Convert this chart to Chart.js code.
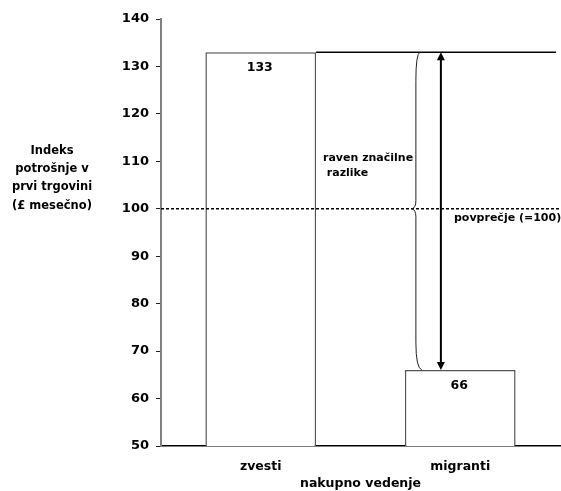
<!DOCTYPE html>
<html>
<head>
<meta charset="utf-8">
<script src="https://cdn.jsdelivr.net/npm/chart.js@4/dist/chart.umd.min.js"></script>
<style>
  html, body { margin: 0; padding: 0; background: #fff; }
  #wrap { width: 561px; height: 491px; }
</style>
</head>
<body>
<div id="wrap"><canvas id="c" width="561" height="491"></canvas></div>
<script>
// Kategorije nakupnega vedenja in indeks porabe
const categories = ['zvesti', 'migranti'];
const indexValues = [133, 66];
const averageIndex = 100;
const yMin = 50;
const yMax = 140;
const yStep = 10;
const yTitleLines = ['Indeks', 'potrošnje v', 'prvi trgovini', '(£ mesečno)'];
const xTitle = 'nakupno vedenje';
const gapLabelLines = ['raven značilne', ' razlike'];
const averageLabel = 'povprečje (=100)';

const FONT = '"DejaVu Sans", Verdana, sans-serif';

const overlay = {
  id: 'overlay',
  afterDatasetsDraw(chart) {
    const ctx = chart.ctx;
    const area = chart.chartArea;
    const y = chart.scales.y;
    const bars = chart.getDatasetMeta(0).data;
    const hiBar = bars[0], loBar = bars[1];
    const yHi = y.getPixelForValue(indexValues[0]);
    const yLo = y.getPixelForValue(indexValues[1]);
    const yAvg = y.getPixelForValue(averageIndex);
    const loLeft = loBar.x - loBar.width / 2;

    ctx.save();
    // povprečje: črtkana črta
    ctx.strokeStyle = '#000';
    ctx.lineWidth = 1.5;
    ctx.setLineDash([3, 2]);
    ctx.beginPath();
    ctx.moveTo(area.left, yAvg);
    ctx.lineTo(area.right, yAvg);
    ctx.stroke();
    ctx.setLineDash([]);

    // vodoravna črta od vrha višjega stolpca
    ctx.lineWidth = 1.5;
    ctx.beginPath();
    ctx.moveTo(hiBar.x + hiBar.width / 2, yHi);
    ctx.lineTo(area.right - 4, yHi);
    ctx.stroke();

    // zavit oklepaj
    const xR = loLeft + 15, xM = loLeft + 11, xC = loLeft + 7;
    ctx.lineWidth = 1;
    ctx.strokeStyle = '#222';
    ctx.beginPath();
    ctx.moveTo(xR, yHi);
    ctx.quadraticCurveTo(xM, yHi + 2, xM, yHi + 28);
    ctx.lineTo(xM, yAvg - 8);
    ctx.quadraticCurveTo(xM, yAvg - 1, xC, yAvg);
    ctx.quadraticCurveTo(xM, yAvg + 1, xM, yAvg + 8);
    ctx.lineTo(xM, yLo - 28);
    ctx.quadraticCurveTo(xM, yLo - 2, xR + 2, yLo);
    ctx.stroke();

    // dvosmerna puščica
    const xA = loLeft + 36;
    ctx.strokeStyle = '#000';
    ctx.fillStyle = '#000';
    ctx.lineWidth = 2;
    ctx.beginPath();
    ctx.moveTo(xA, yHi + 7);
    ctx.lineTo(xA, yLo - 7);
    ctx.stroke();
    ctx.beginPath();
    ctx.moveTo(xA, yHi);
    ctx.lineTo(xA - 4, yHi + 8);
    ctx.lineTo(xA + 4, yHi + 8);
    ctx.closePath();
    ctx.fill();
    ctx.beginPath();
    ctx.moveTo(xA, yLo);
    ctx.lineTo(xA - 4, yLo - 8);
    ctx.lineTo(xA + 4, yLo - 8);
    ctx.closePath();
    ctx.fill();

    // oznake vrednosti
    ctx.fillStyle = '#000';
    ctx.font = 'bold 12.5px ' + FONT;
    ctx.textAlign = 'center';
    ctx.textBaseline = 'middle';
    bars.forEach((b, i) => {
      ctx.fillText(String(indexValues[i]), b.x - 1, y.getPixelForValue(indexValues[i]) + 16);
    });

    // besedilo ob oklepaju in povprečju
    ctx.font = 'bold 11px ' + FONT;
    ctx.textAlign = 'left';
    ctx.fillText(gapLabelLines[0], 323, 158);
    ctx.fillText(gapLabelLines[1], 323, 173);
    ctx.fillText(averageLabel, 454, yAvg + 9);

    // naslov osi y (vodoravno, levo od osi)
    ctx.font = 'bold 11.5px ' + FONT;
    ctx.textAlign = 'center';
    yTitleLines.forEach((t, i) => {
      ctx.fillText(t, 52, 151 + i * 18.2);
    });
    ctx.restore();
  }
};

new Chart(document.getElementById('c'), {
  type: 'bar',
  data: {
    labels: categories,
    datasets: [{
      data: indexValues,
      backgroundColor: '#fff',
      borderColor: '#555',
      borderWidth: 1.5,
      categoryPercentage: 1,
      barPercentage: 0.555
    }]
  },
  options: {
    responsive: false,
    animation: false,
    devicePixelRatio: 1,
    layout: { padding: { top: 19, right: 1, left: 0, bottom: 0 } },
    plugins: {
      legend: { display: false },
      tooltip: { enabled: false }
    },
    scales: {
      x: {
        grid: { display: false, drawTicks: false },
        border: { display: true, color: '#000', width: 1.5 },
        ticks: {
          color: '#000',
          padding: 13,
          font: { family: FONT, size: 12.5, weight: 'bold' }
        },
        title: {
          display: true,
          text: xTitle,
          color: '#000',
          padding: { top: 0, bottom: 0 },
          font: { family: FONT, size: 12.5, weight: 'bold' }
        },
        afterFit(scale) { scale.height = 45; }
      },
      y: {
        min: yMin,
        max: yMax,
        ticks: {
          stepSize: yStep,
          color: '#000',
          padding: 7,
          font: { family: FONT, size: 13, weight: 'bold' }
        },
        grid: {
          drawOnChartArea: false,
          drawTicks: true,
          tickLength: 5,
          tickColor: '#222',
          tickWidth: 1
        },
        border: { display: true, color: '#808080', width: 2 },
        afterFit(scale) { scale.width = 161; }
      }
    }
  },
  plugins: [overlay]
});
</script>
</body>
</html>
